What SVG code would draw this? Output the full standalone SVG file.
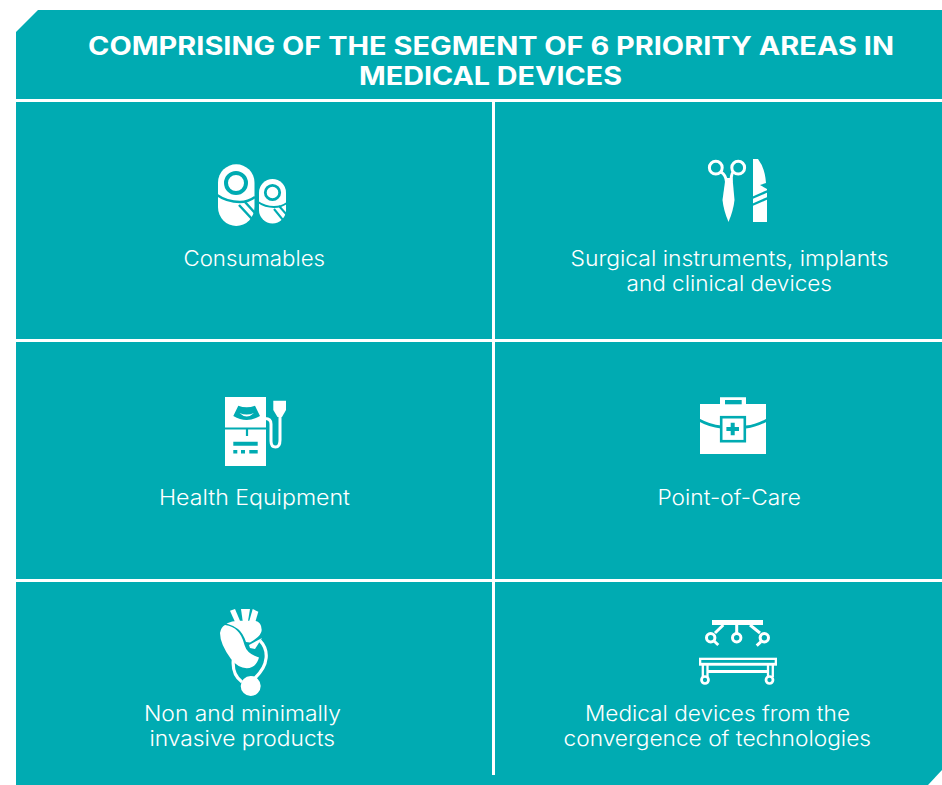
<svg xmlns="http://www.w3.org/2000/svg" width="942" height="785" viewBox="0 0 942 785">
<style>
.bg{fill:#00abb2}
.w{fill:#fff}
.t{fill:#00abb2}
.sw{fill:none;stroke:#fff}
.st{fill:none;stroke:#00abb2}
.div{stroke:#fff;stroke-width:3;fill:none}
text{font-family:"Inter","Liberation Sans",sans-serif;fill:#fff}
.h{font-size:25px;font-weight:700}
.l{font-size:21px;font-weight:300}
</style>
<rect width="942" height="785" fill="#fff"/>
<polygon class="bg" points="38,10 942,10 942,770 928,785 16,785 16,32"/>
<g id="connectors">
<path class="div" d="M16 100.400H942M16 340.400H942M16 580.400H942M493.500 100V775"/>
</g>
<g id="title">
<text class="h" x="88" y="55" textLength="806" lengthAdjust="spacingAndGlyphs">COMPRISING OF THE SEGMENT OF 6 PRIORITY AREAS IN</text>
<text class="h" x="359" y="85" textLength="263" lengthAdjust="spacingAndGlyphs">MEDICAL DEVICES</text>
</g>
<g id="consumables">
<path class="w" d="M218 182.500a18.250 18.250 0 0 1 36.500 0V207a18.250 19 0 0 1-36.500 0Z"/>
<path class="st" stroke-width="2.500" d="M217 195Q227 202 240 202Q248 202 255 197"/>
<circle class="st" cx="236" cy="183" r="10" stroke-width="4"/>
<path class="st" stroke-width="2.500" d="M239 205L252 219M245 202L255 213"/>
<path class="w" d="M259 192.500a13.500 13.500 0 0 1 27 0V210a13.500 13.500 0 0 1-27 0Z"/>
<path class="st" stroke-width="2" d="M258 202Q265 207 274 207Q281 207 287 203"/>
<circle class="st" cx="272.500" cy="192.500" r="7.200" stroke-width="2.800"/>
<path class="st" stroke-width="2" d="M274 209L283 220M279 206L287 215"/>
<text class="l" x="183.500" y="266" textLength="141.500" lengthAdjust="spacingAndGlyphs">Consumables</text>
</g>
<g id="surgical">
<circle class="sw" cx="715.800" cy="167.700" r="6.400" stroke-width="3"/>
<circle class="sw" cx="738.200" cy="167.700" r="6.400" stroke-width="3"/>
<path class="sw" stroke-width="3" d="M721 172Q726 175 726.500 182M733 172Q731 175 731 182"/>
<path class="w" d="M725.500 178H732.500L734.500 200Q733.500 210 728.500 222Q723.500 210 722.500 200Z"/>
<path class="w" d="M753 159H758Q765 168 766 183L760 185L767 189V222H753Z"/>
<path class="st" stroke-width="2.400" d="M752 198L768 191M752 205L768 198"/>
<text class="l" x="570.500" y="266" textLength="318" lengthAdjust="spacingAndGlyphs">Surgical instruments, implants</text>
<text class="l" x="626.500" y="291" textLength="205.500" lengthAdjust="spacingAndGlyphs">and clinical devices</text>
</g>
<g id="health-equipment">
<rect class="w" x="225" y="397" width="41" height="69"/>
<path class="st" stroke-width="2.200" d="M224 428.500H267M247 428.500V436"/>
<path class="t" d="M238.300 405.700Q246.700 409 255 405.700L260 416Q246.700 424 233.300 416Z"/>
<path class="w" d="M239.500 413Q246.700 416 254 413Q246.700 420 239.500 413Z"/>
<path class="t" d="M233.300 441.700H257.700V445.700H233.300ZM233.300 450H237.300V453.500H233.300ZM241 450H245V453.500H241ZM249.300 450H257.700V453.500H249.300Z"/>
<path class="w" d="M273.300 400.700H286V410L282 417H277.500L273.300 410Z"/>
<path class="sw" stroke-width="3" d="M280 416V440Q280 447 275.500 447Q271 447 271 441V424Q271 418.500 265 418.500"/>
<text class="l" x="159" y="505" textLength="191" lengthAdjust="spacingAndGlyphs">Health Equipment</text>
</g>
<g id="point-of-care">
<path class="w" d="M720 404V397.300H746V404H766V454H700V404Z"/>
<rect class="t" x="725" y="400" width="16.700" height="4.300"/>
<path class="st" stroke-width="2.800" d="M699 420Q710 426 721 427M746 427Q756 426 767 420"/>
<rect class="st" x="721.200" y="417.200" width="23.600" height="24" stroke-width="2.600"/>
<path class="st" stroke-width="4" d="M732.700 422.700V435.300M726.400 429H739"/>
<text class="l" x="657.500" y="505" textLength="143.500" lengthAdjust="spacingAndGlyphs">Point-of-Care</text>
</g>
<g id="non-invasive">
<polygon class="w" points="230,610.700 235,609 240.500,622 235,622"/>
<polygon class="w" points="241,609 250,609 248,621 242.700,621"/>
<polygon class="w" points="252.700,609 258.300,611.700 255,623 249,622"/>
<path class="w" d="M226.500 623.500Q232 620.700 238.300 620.700H255Q261.700 622 261.700 630Q261.700 636 250 642.500L246 642Q243 633 238 629Q232 625 226.500 623.500Z"/>
<polygon class="w" points="249,645 262,638 255,649 250,648"/>
<path class="w" d="M225 625Q233 626 237 630.500Q242 635 244.500 645Q247 654 259 657.500Q256 668 246.700 668.300Q238 668 231 659Q220 644 220 633Q221 627 225 625Z"/>
<path class="sw" stroke-width="3.200" d="M260 640.700C269 650 269 665 255 678M233.300 660Q232 675 242 682"/>
<circle class="w" cx="250.700" cy="686" r="10"/>
<text class="l" x="144" y="721" textLength="197" lengthAdjust="spacingAndGlyphs">Non and minimally</text>
<text class="l" x="149.500" y="746" textLength="185.500" lengthAdjust="spacingAndGlyphs">invasive products</text>
</g>
<g id="convergence">
<rect class="w" x="712" y="620" width="51" height="5"/>
<path class="sw" stroke-width="3" d="M736.700 625V633M723.300 625L715 633M750 625L760 633M714 641L718.300 645M761 641.700L756.700 645.700"/>
<circle class="sw" cx="710.700" cy="637.700" r="4.200" stroke-width="3"/>
<circle class="sw" cx="736.700" cy="637.700" r="4.200" stroke-width="3"/>
<circle class="sw" cx="764.300" cy="637.700" r="4.200" stroke-width="3"/>
<rect class="w" x="699" y="657.700" width="78" height="8"/>
<rect class="t" x="701.300" y="660" width="73.400" height="2.800"/>
<path class="sw" stroke-width="2.300" d="M702.800 665V677M707.500 665V677M768 665V677M772.800 665V677"/>
<path class="sw" stroke-width="3" d="M708 671.500H768"/>
<circle class="sw" cx="705" cy="680" r="3.500" stroke-width="2.700"/>
<circle class="sw" cx="769.500" cy="680" r="3.500" stroke-width="2.700"/>
<text class="l" x="585" y="721" textLength="265" lengthAdjust="spacingAndGlyphs">Medical devices from the</text>
<text class="l" x="563.500" y="746" textLength="307.500" lengthAdjust="spacingAndGlyphs">convergence of technologies</text>
</g>
</svg>
